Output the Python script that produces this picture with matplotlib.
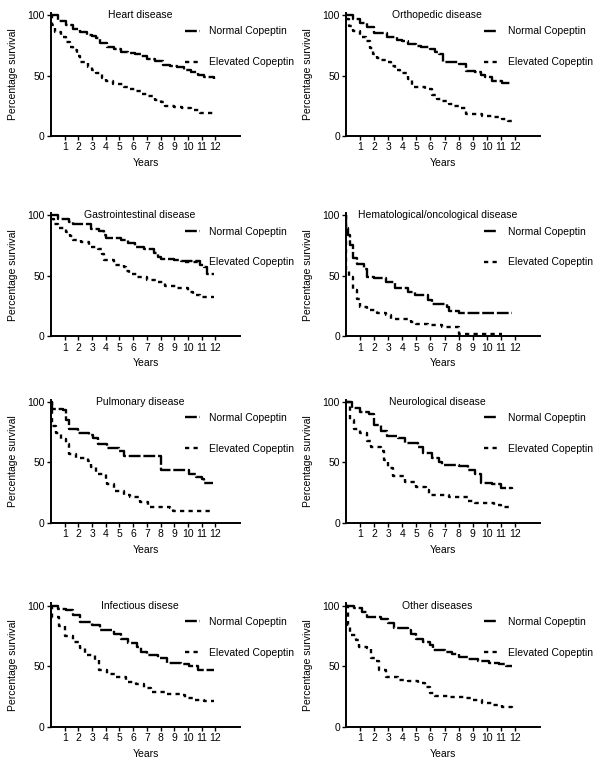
import matplotlib
matplotlib.use("Agg")
import matplotlib.pyplot as plt
import matplotlib.transforms as mtransforms
from matplotlib.lines import Line2D

plt.rcParams['font.family'] = ['Liberation Sans', 'DejaVu Sans']
plt.rcParams['font.size'] = 7.5

# Kaplan-Meier curves (years, % survival)
heart_norm_t = [0, 0.5, 1.1, 1.6, 2.1, 2.6, 3.0, 3.3, 3.6, 4.1, 4.6, 5.1, 5.6, 6.1, 6.6, 7.0, 7.6, 8.2, 8.7, 9.2, 9.7, 10.2, 10.7, 11.2, 11.9]
heart_norm_s = [100, 95, 92, 89, 86, 84, 83, 81, 77, 74, 72, 70, 69, 68, 66, 64, 62, 59, 58, 57, 55, 53, 51, 49, 47]
heart_elev_t = [0, 0.1, 0.3, 0.7, 1.1, 1.4, 1.6, 1.9, 2.1, 2.7, 3.0, 3.3, 3.7, 4.0, 4.5, 5.3, 5.7, 6.1, 6.6, 7.0, 7.6, 8.0, 8.3, 9.0, 9.6, 10.2, 10.9, 11.9]
heart_elev_s = [100, 92, 86, 82, 78, 74, 71, 66, 61, 57, 55, 52, 48, 46, 43, 41, 39, 37, 35, 33, 30, 28, 25, 24, 23, 22, 19.5, 19.5]

ortho_norm_t = [0, 0.5, 1.0, 1.5, 2.0, 2.9, 3.6, 4.0, 4.4, 5.0, 5.3, 6.0, 6.3, 6.6, 6.9, 8.0, 8.5, 9.2, 9.6, 9.9, 10.4, 11.1, 11.8]
ortho_norm_s = [100, 97, 94, 90, 85, 82, 80, 79, 76, 75, 74, 72, 70, 68, 61, 60, 54, 53, 51, 49, 46, 44, 44]
ortho_elev_t = [0, 0.2, 0.5, 1.0, 1.4, 1.7, 1.9, 2.2, 2.5, 3.0, 3.2, 3.5, 3.8, 4.4, 4.7, 5.6, 6.1, 6.5, 6.8, 7.3, 7.7, 8.2, 8.5, 9.7, 10.4, 11.1, 11.5, 11.8]
ortho_elev_s = [97, 91, 87, 82, 79, 73, 68, 65, 63, 61, 58, 55, 52, 47.5, 41, 39, 34, 31, 29, 27, 25, 23, 18.5, 17, 15.5, 14, 12.5, 12.5]

gastro_norm_t = [0, 0.5, 1.3, 1.6, 2.9, 3.5, 3.9, 4.0, 5.1, 5.6, 6.1, 6.8, 7.5, 7.8, 8.0, 9.0, 9.5, 10.9, 11.2, 11.4, 11.9]
gastro_norm_s = [100, 97, 95, 93, 89, 87, 84, 81, 80, 77, 74, 72, 69, 66, 64, 63, 62, 59, 57, 52, 52]
gastro_elev_t = [0, 0.2, 0.5, 1.1, 1.4, 1.6, 2.2, 2.8, 3.4, 3.7, 3.9, 4.6, 5.3, 5.5, 5.7, 6.3, 7.0, 7.8, 8.3, 9.2, 10.0, 10.4, 10.9, 11.9]
gastro_elev_s = [97, 93, 90, 86, 83, 80, 78, 74, 72, 68, 63, 59, 57, 54, 52, 49, 47, 45, 42, 40, 37, 34, 32.5, 32.5]

hema_norm_t = [0, 0.02, 0.1, 0.3, 0.5, 0.8, 1.25, 1.5, 2.0, 2.8, 3.5, 4.4, 4.9, 5.8, 6.1, 7.2, 7.3, 8.0, 11.1, 11.8]
hema_norm_s = [100, 90, 84, 76, 65, 60, 56, 49, 48, 45, 40, 37, 34, 30, 27, 24, 21, 19, 19, 19]
hema_elev_t = [0, 0.02, 0.2, 0.5, 0.8, 1.0, 1.5, 2.2, 2.8, 3.2, 4.6, 5.0, 5.8, 6.8, 7.9, 8.0, 11.1]
hema_elev_s = [100, 55, 49, 38, 31, 24, 22, 19, 17.5, 14, 12, 10.5, 9, 8, 8, 1.7, 1.7]

pulm_norm_t = [0, 0.1, 0.85, 1.1, 1.3, 2.0, 2.8, 3.1, 3.4, 4.1, 5.0, 5.3, 7.6, 8.0, 9.9, 10.1, 10.6, 11.0, 11.2, 11.8]
pulm_norm_s = [100, 94, 93, 85, 78, 74, 73, 70, 65, 62, 59, 55, 55, 44, 44, 40, 38, 36, 33, 33]
pulm_elev_t = [0, 0.05, 0.35, 0.7, 1.1, 1.3, 1.8, 2.7, 2.9, 3.3, 4.0, 4.1, 4.6, 5.3, 5.8, 6.5, 7.1, 8.7, 8.9, 11.8]
pulm_elev_s = [100, 80, 74, 69, 65, 57, 54, 51, 46, 40, 36, 32, 26, 23, 21, 17, 13, 12.5, 10, 10]

neuro_norm_t = [0, 0.4, 1.0, 1.6, 2.0, 2.5, 2.9, 3.7, 4.2, 5.1, 5.5, 6.1, 6.6, 6.8, 8.0, 8.7, 9.2, 9.6, 10.4, 11.0, 11.8]
neuro_norm_s = [100, 95, 92, 90, 81, 76, 72, 70, 66, 63, 58, 54, 50, 48, 47, 44, 40, 33, 32, 29, 28]
neuro_elev_t = [0, 0.25, 0.55, 1.0, 1.5, 1.75, 2.5, 2.7, 3.0, 3.3, 4.2, 5.0, 5.7, 5.9, 7.3, 8.7, 9.2, 10.5, 11.0, 11.8]
neuro_elev_s = [100, 85, 78, 74, 68, 63, 59, 52, 45, 39, 34, 30, 27.5, 23, 21, 18, 16.5, 14.5, 13, 13]

infect_norm_t = [0, 0.5, 1.1, 1.6, 2.1, 3.0, 3.6, 4.6, 5.1, 5.6, 6.3, 6.6, 7.0, 7.8, 8.5, 9.5, 10.1, 10.7, 11.9]
infect_norm_s = [100, 97.5, 97, 92.5, 87, 84, 80, 77, 73, 69, 66, 62, 59.5, 56.5, 52.5, 52, 50, 47, 47]
infect_elev_t = [0, 0.1, 0.6, 1.0, 1.6, 2.1, 2.5, 3.2, 3.5, 4.1, 4.7, 5.5, 6.2, 6.8, 7.3, 8.3, 9.5, 9.8, 10.4, 11.2, 11.9]
infect_elev_s = [100, 91, 83, 75, 70, 65, 59, 55, 47, 44, 41, 37, 35, 32, 29, 27, 26, 24, 22, 21, 21]

other_norm_t = [0, 0.55, 1.15, 1.5, 2.5, 3.0, 3.4, 4.4, 4.6, 5.0, 5.5, 6.0, 6.2, 7.0, 7.5, 8.0, 8.7, 9.4, 10.2, 10.9, 11.4, 11.8]
other_norm_s = [100, 98, 95, 91, 89, 86, 81.5, 80, 77, 73, 70, 68, 63.5, 62, 60, 57.5, 56, 54.5, 53, 52, 50, 50]
other_elev_t = [0, 0.15, 0.3, 0.7, 0.9, 1.5, 1.75, 2.1, 2.35, 2.8, 3.7, 4.4, 5.1, 5.6, 6.0, 6.3, 7.3, 8.5, 9.0, 9.7, 10.4, 11.1, 11.8]
other_elev_s = [100, 84, 76, 72, 66, 65, 57, 54, 47, 41, 39, 38, 36, 33, 28, 25.5, 24.5, 23.5, 22, 20, 18, 16.5, 15]

titles = ["Heart disease", "Orthopedic disease", "Gastrointestinal disease",
          "Hematological/oncological disease", "Pulmonary disease", "Neurological disease",
          "Infectious disese", "Other diseases"]
normal = [(heart_norm_t, heart_norm_s), (ortho_norm_t, ortho_norm_s), (gastro_norm_t, gastro_norm_s),
          (hema_norm_t, hema_norm_s), (pulm_norm_t, pulm_norm_s), (neuro_norm_t, neuro_norm_s),
          (infect_norm_t, infect_norm_s), (other_norm_t, other_norm_s)]
elevated = [(heart_elev_t, heart_elev_s), (ortho_elev_t, ortho_elev_s), (gastro_elev_t, gastro_elev_s),
            (hema_elev_t, hema_elev_s), (pulm_elev_t, pulm_elev_s), (neuro_elev_t, neuro_elev_s),
            (infect_elev_t, infect_elev_s), (other_elev_t, other_elev_s)]
year_ticks = list(range(1, 13))

fig = plt.figure(figsize=(6, 7.61), dpi=100)

lefts = [0.085, 0.577]
widths = [0.315, 0.323]
bottoms = [0.821, 0.558, 0.313, 0.045]
height = 0.162

norm_dash = (5, 1.2)
elev_dash = (1.8, 1.8)

for i in range(8):
    row, col = i // 2, i % 2
    ax = fig.add_axes([lefts[col], bottoms[row], widths[col], height])
    nt, ns = normal[i]
    et, es = elevated[i]
    ax.step(nt, ns, where='post', color='black', lw=1.7, dashes=norm_dash)
    ax.step(et, es, where='post', color='black', lw=1.7, dashes=elev_dash)

    ax.set_xlim(0, 13.8)
    ax.set_ylim(0, 102)
    ax.set_xticks(year_ticks)
    ax.set_yticks([0, 50, 100])
    ax.spines['top'].set_visible(False)
    ax.spines['right'].set_visible(False)
    ax.spines['left'].set_linewidth(1.4)
    ax.spines['bottom'].set_linewidth(1.4)
    ax.tick_params(length=3, width=1, pad=1.5, labelsize=7.5)
    ax.set_xlabel("Years", labelpad=4)
    ax.set_ylabel("Percentage survival", labelpad=7)

    trans = mtransforms.blended_transform_factory(ax.transAxes, ax.transData)
    ax.text(0.47, 100, titles[i], transform=trans, ha='center', va='center', fontsize=7.5)

    handles = [Line2D([], [], color='black', lw=1.7, dashes=norm_dash),
               Line2D([], [], color='black', lw=1.7, dashes=elev_dash)]
    ax.legend(handles, ["Normal Copeptin", "Elevated Copeptin"], loc='upper left',
              bbox_to_anchor=(0.71, 0.89), frameon=False, borderaxespad=0, borderpad=0,
              handlelength=1.4, handletextpad=0.9, labelspacing=2.0, fontsize=7.5)

fig.savefig("out.png", dpi=100)
